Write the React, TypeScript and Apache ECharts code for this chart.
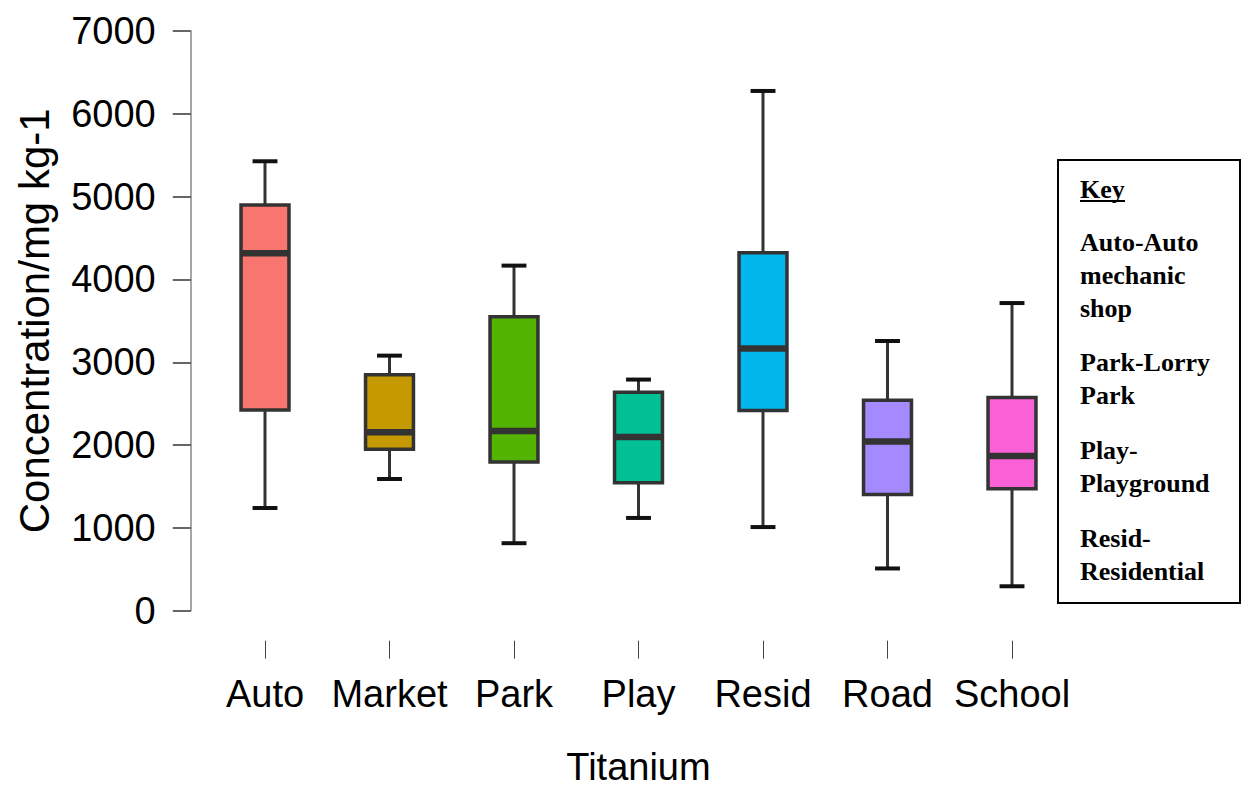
import React, { useEffect, useRef } from "react";
import * as echarts from "echarts";

const categories = ["Auto", "Market", "Park", "Play", "Resid", "Road", "School"];
const mins = [1240, 1590, 815, 1120, 1010, 510, 295];
const q1s = [2424, 1949, 1796, 1544, 2417, 1402, 1473];
const medians = [4316, 2155, 2170, 2098, 3166, 2043, 1868];
const q3s = [4899, 2850, 3551, 2638, 4322, 2542, 2575];
const maxs = [5427, 3080, 4167, 2791, 6276, 3257, 3715];
const boxColors = ["#F8766D", "#C49A00", "#53B400", "#00C094", "#00B6EB", "#A58AFF", "#FB61D7"];
const yTicks = [0, 7000, 1000];
const keyLines: [string, number][] = [
  ["Auto-Auto", 242],
  ["mechanic", 275],
  ["shop", 308],
  ["Park-Lorry", 362],
  ["Park", 395],
  ["Play-", 450],
  ["Playground", 483],
  ["Resid-", 538],
  ["Residential", 571],
];

export default function App() {
  const ref = useRef<HTMLDivElement>(null);
  useEffect(() => {
    const chart = echarts.init(ref.current!, undefined, { renderer: "svg" });
    const data = categories.map((_, i) => [i, mins[i], q1s[i], medians[i], q3s[i], maxs[i]]);
    const font = "Liberation Sans, Arial, sans-serif";
    const serif = "Liberation Serif, Times New Roman, serif";
    chart.setOption({
      animation: false,
      backgroundColor: "#fff",
      grid: [
        { left: 202.75, right: 166.75, top: 31, bottom: 176.3, containLabel: false, outerBoundsMode: "none" },
        { left: 202.75, right: 166.75, top: 640.7, height: 18, containLabel: false, outerBoundsMode: "none" },
      ],
      xAxis: [
        {
          type: "category",
          data: categories,
          gridIndex: 0,
          axisLine: { show: false },
          axisTick: { show: false },
          axisLabel: { show: false },
          splitLine: { show: false },
        },
        {
          type: "category",
          data: categories,
          gridIndex: 1,
          position: "bottom",
          axisLine: { show: false },
          axisTick: { show: true, inside: true, alignWithLabel: true, length: 18, lineStyle: { color: "#444", width: 1 } },
          axisLabel: { fontSize: 38, color: "#000", fontFamily: font, margin: 16, interval: 0 },
          name: "Titanium",
          nameLocation: "middle",
          nameGap: 89,
          nameTextStyle: { fontSize: 38, color: "#000", fontFamily: font },
          splitLine: { show: false },
        },
      ],
      yAxis: [
        {
          type: "value",
          gridIndex: 0,
          min: yTicks[0],
          max: yTicks[1],
          interval: yTicks[2],
          offset: 12,
          axisLine: { show: true, lineStyle: { color: "#888", width: 1.5 } },
          axisTick: { show: true, length: 18, lineStyle: { color: "#333", width: 1.5 } },
          axisLabel: { fontSize: 38, color: "#000", fontFamily: font, margin: 35, formatter: (v: number) => String(v) },
          splitLine: { show: false },
          name: "Concentration/mg kg-1",
          nameLocation: "middle",
          nameGap: 135,
          nameTextStyle: { fontSize: 42, color: "#000", fontFamily: font },
        },
        { type: "value", gridIndex: 1, show: false },
      ],
      series: [
        {
          type: "custom",
          xAxisIndex: 0,
          yAxisIndex: 0,
          data,
          encode: { x: 0, y: [1, 2, 3, 4, 5] },
          renderItem: (params: any, api: any) => {
            const i = api.value(0);
            const pMin = api.coord([i, api.value(1)]);
            const pQ1 = api.coord([i, api.value(2)]);
            const pMed = api.coord([i, api.value(3)]);
            const pQ3 = api.coord([i, api.value(4)]);
            const pMax = api.coord([i, api.value(5)]);
            const band = api.size([1, 0])[0];
            const bw = band * 0.385;
            const cap = band * 0.2;
            const x = pMin[0];
            const ws = { stroke: "#333", lineWidth: 3 };
            const cs = { stroke: "#111", lineWidth: 4 };
            return {
              type: "group",
              children: [
                { type: "line", shape: { x1: x, y1: pMax[1], x2: x, y2: pQ3[1] }, style: ws },
                { type: "line", shape: { x1: x, y1: pQ1[1], x2: x, y2: pMin[1] }, style: ws },
                { type: "line", shape: { x1: x - cap / 2, y1: pMax[1], x2: x + cap / 2, y2: pMax[1] }, style: cs },
                { type: "line", shape: { x1: x - cap / 2, y1: pMin[1], x2: x + cap / 2, y2: pMin[1] }, style: cs },
                {
                  type: "rect",
                  shape: { x: x - bw / 2, y: pQ3[1], width: bw, height: pQ1[1] - pQ3[1] },
                  style: { fill: boxColors[i], stroke: "#333", lineWidth: 3.5 },
                },
                {
                  type: "line",
                  shape: { x1: x - bw / 2, y1: pMed[1], x2: x + bw / 2, y2: pMed[1] },
                  style: { stroke: "#333", lineWidth: 6.5 },
                },
              ],
            };
          },
        },
      ],
      graphic: [
        {
          type: "rect",
          shape: { x: 1058, y: 160, width: 182, height: 443 },
          style: { fill: "#fff", stroke: "#000", lineWidth: 2 },
        },
        {
          type: "text",
          x: 1080,
          y: 189,
          style: { text: "Key", fontSize: 26, fontWeight: "bold", fontFamily: serif, fill: "#000", verticalAlign: "middle", align: "left" },
        },
        {
          type: "line",
          shape: { x1: 1080, y1: 201, x2: 1125, y2: 201 },
          style: { stroke: "#000", lineWidth: 2 },
        },
        ...keyLines.map(([t, y]) => ({
          type: "text",
          x: 1080,
          y,
          style: { text: t, fontSize: 26, fontWeight: "bold", fontFamily: serif, fill: "#000", verticalAlign: "middle", align: "left" },
        })),
      ],
    });
    return () => chart.dispose();
  }, []);
  return <div ref={ref} style={{ position: "absolute", left: 0, top: 0, width: 1241, height: 787 }} />;
}
